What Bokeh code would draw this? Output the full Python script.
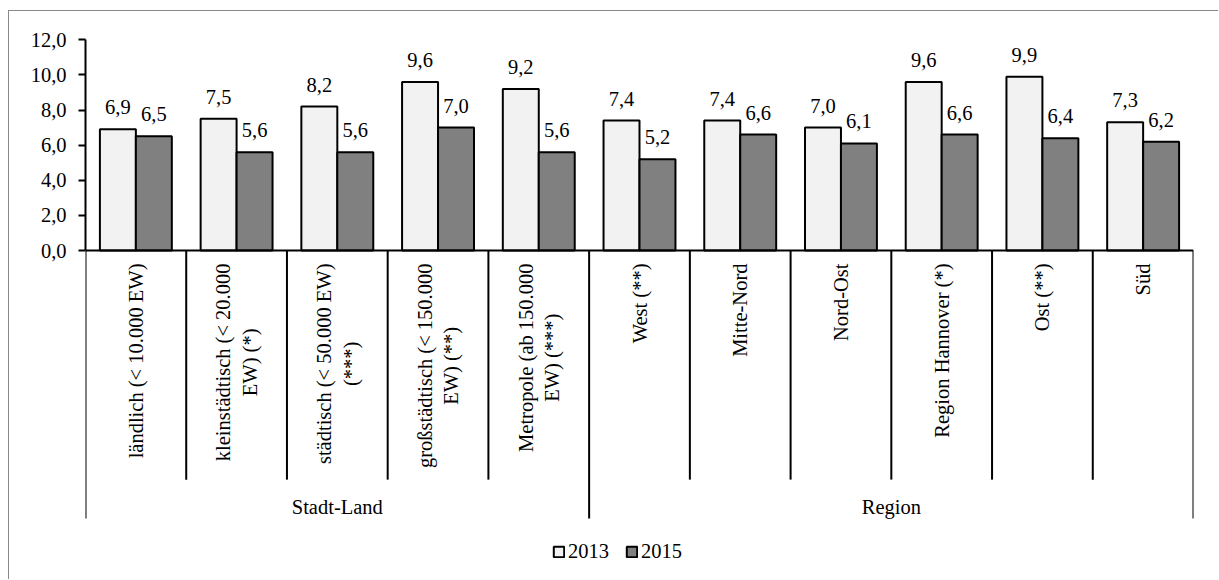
import math
from bokeh.plotting import figure
from bokeh.models import Range1d, FixedTicker, Legend, LegendItem
from bokeh.core.properties import value
from bokeh.embed import file_html
from bokeh.resources import INLINE

# ---- data ----
categories = [
    "ländlich (< 10.000 EW)",
    "kleinstädtisch (< 20.000\nEW) (*)",
    "städtisch (< 50.000 EW)\n(***)",
    "großstädtisch (< 150.000\nEW) (**)",
    "Metropole (ab 150.000\nEW) (***)",
    "West (**)",
    "Mitte-Nord",
    "Nord-Ost",
    "Region Hannover (*)",
    "Ost (**)",
    "Süd",
]
groups = ["Stadt-Land", "Region"]
group_sizes = [5, 6]
series = ["2013", "2015"]
values_2013 = [6.9, 7.5, 8.2, 9.6, 9.2, 7.4, 7.4, 7.0, 9.6, 9.9, 7.3]
values_2015 = [6.5, 5.6, 5.6, 7.0, 5.6, 5.2, 6.6, 6.1, 6.6, 6.4, 6.2]
y_ticks = [0, 2, 4, 6, 8, 10, 12]

# ---- style ----
FONT = "Liberation Serif"
FS = "20.5px"
C13 = "#F2F2F2"
C15 = "#808080"
BAR_W = 0.357

n = len(categories)
PX_PER_UNIT = 17.558
OFF_X, OFF_Y, BW = 8, 10, 1      # page offset of the chart box, border width
OX, OY = OFF_X + BW, OFF_Y + BW  # page position of canvas origin
W, H = 1219 - OX, 580 - OY
LEFT, RIGHT, TOP, BOTTOM = 85 - OX, 26, 20 - OY, 0
frame_h = H - TOP - BOTTOM
zero_px = 250 - OY - TOP
y_end = zero_px / PX_PER_UNIT
y_start = -(frame_h - zero_px) / PX_PER_UNIT

p = figure(width=W, height=H, output_backend="svg", toolbar_location=None,
           x_range=Range1d(0, n), y_range=Range1d(y_start, y_end),
           x_axis_location=None, min_border_left=LEFT, min_border_right=RIGHT,
           min_border_top=TOP, min_border_bottom=BOTTOM)
p.margin = (OFF_Y, 0, 0, OFF_X)
p.styles = {"border-left": f"{BW}px solid #898989", "border-top": f"{BW}px solid #898989"}
p.grid.visible = False
p.outline_line_color = None
p.background_fill_color = "white"
p.border_fill_color = "white"

centers = [i + 0.5 for i in range(n)]
x13 = [c - BAR_W / 2 for c in centers]
x15 = [c + BAR_W / 2 for c in centers]

r13 = p.vbar(x=x13, top=values_2013, width=BAR_W, bottom=0,
             fill_color=C13, line_color="black", line_width=2)
r15 = p.vbar(x=x15, top=values_2015, width=BAR_W, bottom=0,
             fill_color=C15, line_color="black", line_width=2)

fmt = lambda v: f"{v:.1f}".replace(".", ",")
for xs, vals in ((x13, values_2013), (x15, values_2015)):
    p.text(x=xs, y=vals, text=[fmt(v) for v in vals], text_align="center",
           text_baseline="alphabetic", y_offset=-22,
           text_font=value(FONT), text_font_size=FS, text_color="black")

# x axis line and separators
p.segment(x0=[0], y0=[0], x1=[n], y1=[0], line_color="black", line_width=2)
SEP_BOTTOM = -13.05
GROUP_BOTTOM = -15.26
bounds = [0]
for s in group_sizes:
    bounds.append(bounds[-1] + s)
inner = [i for i in range(1, n) if i not in bounds]
p.segment(x0=inner, y0=[0] * len(inner), x1=inner, y1=[SEP_BOTTOM] * len(inner),
          line_color="black", line_width=2)
p.segment(x0=bounds, y0=[0] * len(bounds), x1=bounds, y1=[GROUP_BOTTOM] * len(bounds),
          line_color="black", line_width=2)

# category labels (rotated, lines centred within the block)
p.text(x=centers, y=[0] * n, text=categories, angle=math.pi / 2,
       text_align="center", anchor="center_right", y_offset=13,
       text_font=value(FONT), text_font_size=FS, text_color="black")

# group labels
gcenters = [(bounds[i] + bounds[i + 1]) / 2 for i in range(len(groups))]
p.text(x=gcenters, y=[-14.62] * len(groups), text=groups, text_align="center",
       text_baseline="middle", text_font=value(FONT), text_font_size=FS,
       text_color="black")

# y axis
ax = p.yaxis[0]
ax.ticker = FixedTicker(ticks=y_ticks)
ax.major_label_overrides = {t: fmt(t) for t in y_ticks}
ax.bounds = (min(y_ticks), max(y_ticks))
ax.major_tick_out = 7
ax.major_tick_in = 0
ax.minor_tick_line_color = None
ax.axis_line_width = 2
ax.major_tick_line_width = 2
ax.axis_line_color = "black"
ax.major_tick_line_color = "black"
ax.major_label_standoff = 12
ax.major_label_text_font = FONT
ax.major_label_text_font_size = FS
ax.major_label_text_color = "black"

# legend
legend = Legend(items=[LegendItem(label=series[0], renderers=[r13]),
                       LegendItem(label=series[1], renderers=[r15])],
                orientation="horizontal", location=(467, 17),
                glyph_width=13, glyph_height=13, label_standoff=3, spacing=16,
                padding=0, margin=0, border_line_color=None,
                background_fill_alpha=0, label_text_font=FONT,
                label_text_font_size=FS, label_text_color="black",
                label_height=13)
p.add_layout(legend, "center")

open("out.html", "w").write(file_html(p, INLINE))
